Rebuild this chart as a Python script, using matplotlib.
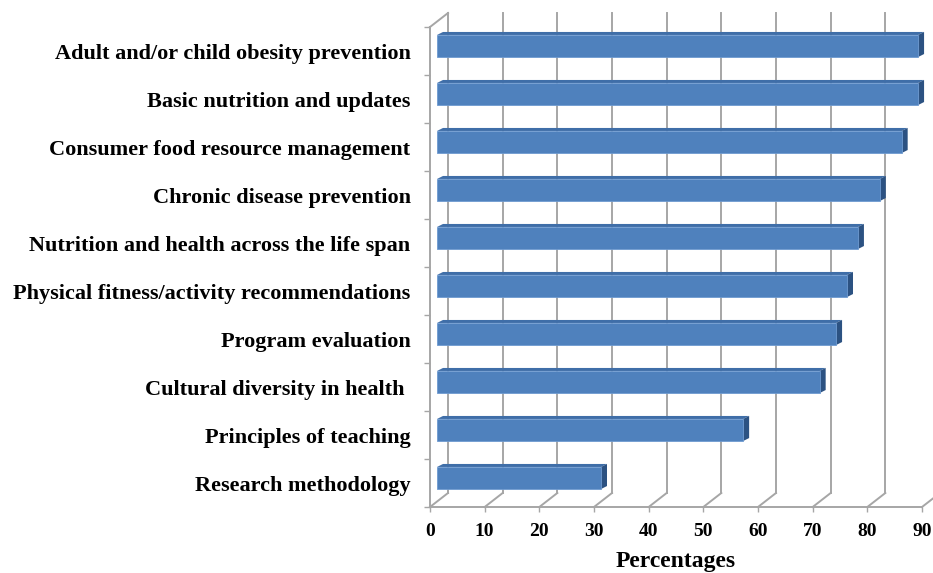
import matplotlib
matplotlib.use("Agg")
import matplotlib.pyplot as plt
from matplotlib.patches import Polygon

categories = [
    "Adult and/or child obesity prevention",
    "Basic nutrition and updates",
    "Consumer food resource management",
    "Chronic disease prevention",
    "Nutrition and health across the life span",
    "Physical fitness/activity recommendations",
    "Program evaluation",
    "Cultural diversity in health ",
    "Principles of teaching",
    "Research methodology",
]
values = [88, 88, 85, 81, 77, 75, 73, 70, 56, 30]
xticks = [0, 10, 20, 30, 40, 50, 60, 70, 80, 90]

W, H, DPI = 933, 573, 100
FRONT = "#4f81bd"
TOP = "#3f6ea8"
SIDE = "#2c5282"
GRID = "#a6a6a6"
FONT = "Liberation Serif"

fig = plt.figure(figsize=(W / DPI, H / DPI), dpi=DPI, facecolor="white")
# front plane of the 3d box, in pixels
x0, x1, y_bot, y_top = 430, 922, 507, 27
ax = fig.add_axes([x0 / W, (H - y_bot) / H, (x1 - x0) / W, (y_bot - y_top) / H])
n = len(categories)
ax.set_xlim(0, 90)
ax.set_ylim(0, n)
for s in ax.spines.values():
    s.set_visible(False)

# pixel -> data unit helpers
ux = (x1 - x0) / 90.0
uy = (y_bot - y_top) / float(n)
def px(p):
    return p / ux
def py(p):
    return p / uy

# wall depth
wdx, wdy = px(18), py(14)

# back wall gridlines and floor diagonals
for v in xticks:
    ax.plot([v + wdx, v + wdx], [wdy, n + wdy], color=GRID, lw=1.4, clip_on=False, zorder=1)
    ax.plot([v, v + wdx], [0, wdy], color=GRID, lw=1.4, clip_on=False, zorder=1)
# left side wall edges
ax.plot([0, 0], [0, n], color=GRID, lw=1.4, clip_on=False, zorder=1)
ax.plot([0, wdx], [n, n + wdy], color=GRID, lw=1.4, clip_on=False, zorder=1)
# front floor edge
ax.plot([0, 90], [0, 0], color=GRID, lw=1.4, clip_on=False, zorder=1)

# bars
bdx, bdy = px(7), py(5)
sdx, sdy = px(6), py(3)
bh = 0.46
ys = [n - i - 0.5 for i in range(n)]
ax.barh([y + bdy for y in ys], values, height=bh, left=bdx, color=FRONT,
        edgecolor="#6f9bd1", linewidth=0.6, zorder=3)
for y, v in zip(ys, values):
    yb = y + bdy - bh / 2
    yt = y + bdy + bh / 2
    xe = bdx + v
    ax.add_patch(Polygon([(bdx, yt), (xe, yt), (xe + sdx, yt + sdy), (bdx + sdx, yt + sdy)],
                         closed=True, facecolor=TOP, edgecolor="none", zorder=2, clip_on=False))
    ax.add_patch(Polygon([(xe, yb), (xe, yt), (xe + sdx, yt + sdy), (xe + sdx, yb + sdy)],
                         closed=True, facecolor=SIDE, edgecolor="none", zorder=2, clip_on=False))

# ticks
ax.set_xticks(xticks)
ax.set_xticklabels([str(t) for t in xticks], fontsize=14, fontweight="bold", family=FONT)
ax.tick_params(axis="x", length=3.5, color=GRID, width=1, pad=8)
ax.set_yticks(ys)
ax.set_yticklabels(categories, fontsize=16, fontweight="bold", family=FONT)
ax.tick_params(axis="y", length=0, pad=14)
ax.set_yticks(range(n + 1), minor=True)
ax.tick_params(axis="y", which="minor", length=4, color=GRID, width=1)

ax.set_xlabel("Percentages", fontsize=17, fontweight="bold", family=FONT, labelpad=8)

fig.savefig("out.png", dpi=DPI, facecolor="white")
